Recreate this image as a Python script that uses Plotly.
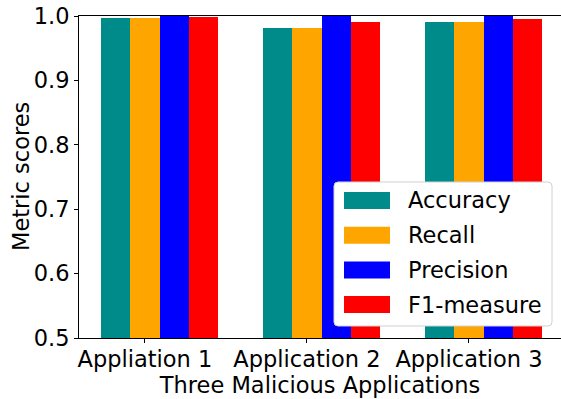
import plotly.graph_objects as go

# Evaluation results for the three malicious applications
categories = ["Appliation 1", "Application 2", "Application 3"]
series_names = ["Accuracy", "Recall", "Precision", "F1-measure"]
accuracy = [0.997, 0.981, 0.991]
recall = [0.997, 0.981, 0.991]
precision = [1.0, 1.0, 1.0]
f1_measure = [0.999, 0.990, 0.995]
series_values = [accuracy, recall, precision, f1_measure]
series_colors = ["#008B8B", "#FFA500", "#0000FF", "#FF0000"]
y_ticks = [0.5, 0.6, 0.7, 0.8, 0.9, 1.0]

FONT = "DejaVu Sans"
FS = 22.5
W, H = 561, 399
ML, MR, MT, MB = 79, 0, 16, 61
PW, PH = W - ML - MR, H - MT - MB

bar_w = 0.18
positions = list(range(len(categories)))

fig = go.Figure()
for k, (name, vals, col) in enumerate(zip(series_names, series_values, series_colors)):
    fig.add_trace(go.Bar(
        x=positions, y=vals, name=name,
        width=bar_w, offset=(k - 1.5) * bar_w,
        marker=dict(color=col, line=dict(width=0)),
        showlegend=False,
    ))

# pixel -> paper coordinate helpers for the legend box
def px_x(p):
    return (p - ML) / PW

def px_y(p):
    return (H - MB - p) / PH

shapes = []
# legend frame with rounded corners
lx0, lx1, ly0, ly1, r = 334, 552, 182, 326, 4
path = (
    f"M {px_x(lx0 + r)},{px_y(ly0)} L {px_x(lx1 - r)},{px_y(ly0)} "
    f"Q {px_x(lx1)},{px_y(ly0)} {px_x(lx1)},{px_y(ly0 + r)} "
    f"L {px_x(lx1)},{px_y(ly1 - r)} Q {px_x(lx1)},{px_y(ly1)} {px_x(lx1 - r)},{px_y(ly1)} "
    f"L {px_x(lx0 + r)},{px_y(ly1)} Q {px_x(lx0)},{px_y(ly1)} {px_x(lx0)},{px_y(ly1 - r)} "
    f"L {px_x(lx0)},{px_y(ly0 + r)} Q {px_x(lx0)},{px_y(ly0)} {px_x(lx0 + r)},{px_y(ly0)} Z"
)
shapes.append(dict(type="path", xref="paper", yref="paper", path=path,
                   fillcolor="white",
                   line=dict(color="#d0d0d0", width=1), layer="above"))
annotations = []
row0, row_gap = 200.5, 34.7
for k, (name, col) in enumerate(zip(series_names, series_colors)):
    cy = row0 + k * row_gap
    shapes.append(dict(type="rect", xref="paper", yref="paper",
                       x0=px_x(344), x1=px_x(390), y0=px_y(cy + 8.5), y1=px_y(cy - 8.5),
                       fillcolor=col, line=dict(width=0), layer="above"))
    annotations.append(dict(xref="paper", yref="paper", x=px_x(406), y=px_y(cy),
                            xanchor="left", yanchor="middle", text=name, showarrow=False,
                            font=dict(family=FONT, size=FS, color="black")))

# y-axis title
annotations.append(dict(xref="paper", yref="paper", x=px_x(21), y=0.5,
                        xanchor="center", yanchor="middle", textangle=-90,
                        text="Metric scores", showarrow=False,
                        font=dict(family=FONT, size=FS, color="black")))

fig.update_layout(
    width=W, height=H,
    margin=dict(l=ML, r=MR, t=MT, b=MB, pad=0),
    paper_bgcolor="white", plot_bgcolor="white",
    barmode="overlay", bargap=0,
    font=dict(family=FONT, size=FS, color="black"),
    shapes=shapes, annotations=annotations,
    xaxis=dict(
        range=[-0.407, 2.568],
        tickmode="array", tickvals=positions, ticktext=categories,
        showline=True, linecolor="black", linewidth=1, mirror=True,
        ticks="outside", ticklen=4, tickwidth=1, tickcolor="black",
        ticklabelstandoff=-3,
        showgrid=False, zeroline=False,
        title=dict(text="Three Malicious Applications", standoff=0,
                   font=dict(family=FONT, size=FS)),
        automargin=False,
    ),
    yaxis=dict(
        range=[0.5, 1.0],
        tickmode="array", tickvals=y_ticks, tickformat=".1f",
        showline=True, linecolor="black", linewidth=1,
        ticks="outside", ticklen=4, tickwidth=1, tickcolor="black",
        showgrid=False, zeroline=False,
        automargin=False,
    ),
)

fig.write_html("out.html")
